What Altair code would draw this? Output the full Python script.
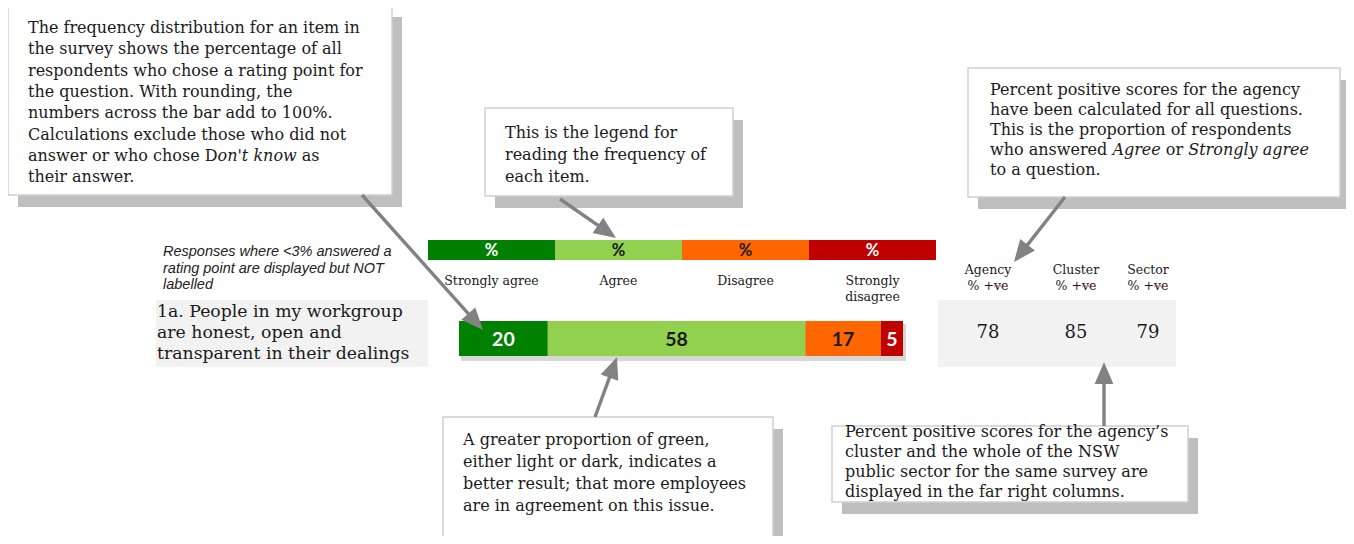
import math
import altair as alt
import pandas as pd

# ---------------- data ----------------
categories = ["Strongly agree", "Agree", "Disagree", "Strongly disagree"]
legend_labels = ["Strongly agree", "Agree", "Disagree", "Strongly\ndisagree"]
legend_symbol = ["%", "%", "%", "%"]
segment_colors = ["#008000", "#92d050", "#ff6600", "#c00000"]
label_colors = ["#ffffff", "#1a1a1a", "#1a1a1a", "#ffffff"]

item_lines = ["1a. People in my workgroup", "are honest, open and", "transparent in their dealings"]
item_values = [20, 58, 17, 5]
label_min = 3

score_headers = ["Agency\n% +ve", "Cluster\n% +ve", "Sector\n% +ve"]
score_values = [78, 85, 79]

note_lines = ["Responses where <3% answered a", "rating point are displayed but NOT", "labelled"]

callout_texts = [
    ["The frequency distribution for an item in",
     "the survey shows the percentage of all",
     "respondents who chose a rating point for",
     "the question. With rounding, the",
     "numbers across the bar add to 100%.",
     "Calculations exclude those who did not",
     "answer or who chose D*on't know* as",
     "their answer."],
    ["This is the legend for",
     "reading the frequency of",
     "each item."],
    ["Percent positive scores for the agency",
     "have been calculated for all questions.",
     "This is the proportion of respondents",
     "who answered *Agree* or *Strongly agree*",
     "to a question."],
    ["A greater proportion of green,",
     "either light or dark, indicates a",
     "better result; that more employees",
     "are in agreement on this issue."],
    ["Percent positive scores for the agency\u2019s",
     "cluster and the whole of the NSW",
     "public sector for the same survey are",
     "displayed in the far right columns."],
]

# ---------------- layout ----------------
PAGE = 8
W, H = 1338, 528
XS = alt.Scale(domain=[PAGE, PAGE + W], nice=False, zero=False)
YS = alt.Scale(domain=[PAGE, PAGE + H], reverse=True, nice=False, zero=False)

SERIF = "DejaVu Serif"
NUMFONT = "Lato"
TEXT = "#1a1a1a"
ARROW = "#828282"
SHADOW = "#bfbfbf"
PANEL = "#f2f2f2"
CALLOUT_SIZE = 16
HEADER_SIZE = 12.5

box_frames = [(8, 5, 392, 195), (485, 108, 733, 196), (968, 68, 1340, 197),
              (443, 417, 773, 537), (832, 426, 1188, 502)]
box_text_pos = [(28, 28, 21.3), (505, 133, 22), (990, 90, 20), (463, 440, 22), (845, 432, 20)]
shadow_dx, shadow_dy = 10, 12
arrows = [((362, 195), (483, 330)), ((560, 199), (616, 238)), ((1065, 197), (1014, 262)),
          ((595, 417), (617, 357)), ((1104, 426), (1104, 362))]
head_r = 11

legend_span = (428, 936)
legend_y = (240, 260)
legend_label_y = 281
bar_span = (459, 903)
bar_y = (321, 356)
panels = [(156, 300, 428, 367), (938, 300, 1176, 367)]
item_x, item_y0, item_dy = 157, 312, 21
note_x, note_y0, note_dy = 163, 252, 16.5
score_x = [988, 1076, 1148]
score_header_y, score_value_y = 270, 333

SERIF_W = {' ': .318, 'a': .596, 'b': .640, 'c': .560, 'd': .640, 'e': .592, 'f': .370,
           'g': .640, 'h': .644, 'i': .320, 'j': .320, 'k': .604, 'l': .320, 'm': .948,
           'n': .644, 'o': .602, 'p': .640, 'q': .640, 'r': .478, 's': .513, 't': .402,
           'u': .644, 'v': .565, 'w': .856, 'x': .564, 'y': .565, 'z': .525, 'A': .722,
           'D': .802, 'S': .685, "'": .275, '.': .318, ',': .318, '%': .950, '+': .838}


def text_w(s, size):
    return sum(SERIF_W.get(ch, 0.6) for ch in s) * size


def pxX(f):
    return alt.X(f"{f}:Q", scale=XS, axis=None)


def pxY(f):
    return alt.Y(f"{f}:Q", scale=YS, axis=None)


def yd(v):
    return alt.YDatum(v, scale=YS, axis=None)


# ---------------- frames ----------------
frames = pd.DataFrame(box_frames, columns=["x", "y", "x2", "y2"])
shadows = frames.copy()
shadows[["x", "x2"]] += shadow_dx
shadows[["y", "y2"]] += shadow_dy

shadow_layer = alt.Chart(shadows).mark_rect(fill=SHADOW).encode(
    x=pxX("x"), x2=alt.X2("x2"), y=pxY("y"), y2=alt.Y2("y2"))
box_layer = alt.Chart(frames).mark_rect(fill="white", stroke="#d0d0d0", strokeWidth=1.5).encode(
    x=pxX("x"), x2=alt.X2("x2"), y=pxY("y"), y2=alt.Y2("y2"))
panel_layer = alt.Chart(pd.DataFrame(panels, columns=["x", "y", "x2", "y2"])).mark_rect(fill=PANEL).encode(
    x=pxX("x"), x2=alt.X2("x2"), y=pxY("y"), y2=alt.Y2("y2"))
bar_shadow = alt.Chart(pd.DataFrame([{"x": bar_span[0] + 2, "y": bar_y[0] + 3,
                                      "x2": bar_span[1] + 3, "y2": bar_y[1] + 5}])).mark_rect(
    fill="#9a9a9a", opacity=0.4).encode(x=pxX("x"), x2=alt.X2("x2"), y=pxY("y"), y2=alt.Y2("y2"))

# ---------------- legend ----------------
legend_df = pd.DataFrame({"cat": categories, "label": legend_labels, "sym": legend_symbol})
LX = alt.X("cat:N", scale=alt.Scale(domain=categories, range=[legend_span[0] - PAGE, legend_span[1] - PAGE],
                                    paddingInner=0, paddingOuter=0), axis=None)
fill_enc = alt.Fill("cat:N", scale=alt.Scale(domain=categories, range=segment_colors), legend=None)
color_enc = alt.Color("cat:N", scale=alt.Scale(domain=categories, range=label_colors), legend=None)

legend_rect = alt.Chart(legend_df).mark_rect().encode(
    x=LX, y=yd(legend_y[0]), y2=alt.Y2Datum(legend_y[1]), fill=fill_enc)
legend_sym = alt.Chart(legend_df).mark_text(font=NUMFONT, fontWeight="bold", fontSize=16.5).encode(
    x=LX, y=yd((legend_y[0] + legend_y[1]) / 2 + 1), text="sym:N", color=color_enc)
legend_text = alt.Chart(legend_df).mark_text(font=SERIF, fontSize=HEADER_SIZE, lineHeight=16, lineBreak="\n",
                                             color=TEXT).encode(
    x=LX, y=yd(legend_label_y), text="label:N")

# ---------------- stacked bar ----------------
bar_df = pd.DataFrame({"cat": categories, "value": item_values, "rank": list(range(len(categories)))})
BXS = alt.Scale(domain=[0, 100], range=[bar_span[0] - PAGE, bar_span[1] - PAGE], nice=False, zero=False)
bar_base = alt.Chart(bar_df).transform_stack(
    stack="value", as_=["v0", "v1"], groupby=[], sort=[alt.SortField("rank", order="ascending")])
bar_rect = bar_base.mark_rect().encode(
    x=alt.X("v0:Q", scale=BXS, axis=None), x2=alt.X2("v1"),
    y=yd(bar_y[0]), y2=alt.Y2Datum(bar_y[1]), fill=fill_enc)
bar_text = bar_base.transform_filter(f"datum.value >= {label_min}").transform_calculate(
    mid="(datum.v0 + datum.v1) / 2").mark_text(font=NUMFONT, fontWeight="bold", fontSize=19.5).encode(
    x=alt.X("mid:Q", scale=BXS, axis=None), y=yd((bar_y[0] + bar_y[1]) / 2 + 1),
    text="value:Q", color=color_enc)

# ---------------- left texts ----------------
item_df = pd.DataFrame({"x": [item_x] * len(item_lines),
                        "y": [item_y0 + i * item_dy for i in range(len(item_lines))],
                        "text": item_lines})
item_layer = alt.Chart(item_df).mark_text(align="left", font=SERIF, fontSize=17.3, color=TEXT).encode(
    x=pxX("x"), y=pxY("y"), text="text:N")
note_df = pd.DataFrame({"x": [note_x] * len(note_lines),
                        "y": [note_y0 + i * note_dy for i in range(len(note_lines))],
                        "text": note_lines})
note_layer = alt.Chart(note_df).mark_text(align="left", font="Liberation Sans", fontStyle="italic",
                                          fontSize=14.5, color="#222222").encode(
    x=pxX("x"), y=pxY("y"), text="text:N")

# ---------------- score columns ----------------
score_df = pd.DataFrame({"x": score_x, "header": score_headers, "value": score_values})
score_head = alt.Chart(score_df).mark_text(font=SERIF, fontSize=HEADER_SIZE, lineHeight=16, lineBreak="\n",
                                           color=TEXT).encode(
    x=pxX("x"), y=yd(score_header_y), text="header:N")
score_val = alt.Chart(score_df).mark_text(font=SERIF, fontSize=18, color=TEXT).encode(
    x=pxX("x"), y=yd(score_value_y), text="value:Q")

# spell-check squiggle under "ve" of "% +ve"
sub_line = "% +ve"
sq_rows = []
for sx in score_x:
    left = sx - text_w(sub_line, HEADER_SIZE) / 2 + text_w("% +", HEADER_SIZE)
    sq_rows.append({"x": left, "x2": left + text_w("ve", HEADER_SIZE), "y": score_header_y + 16})
squiggle = alt.Chart(pd.DataFrame(sq_rows)).mark_rule(color="#d04040", strokeWidth=1.2,
                                                      strokeDash=[1.5, 1.5]).encode(
    x=pxX("x"), x2=alt.X2("x2"), y=pxY("y"))

# ---------------- callout texts ----------------
reg_rows, ita_rows = [], []
for lines, (tx, ty, tdy) in zip(callout_texts, box_text_pos):
    for i, line in enumerate(lines):
        cx = tx
        for j, part in enumerate(line.split("*")):
            if not part:
                continue
            lead = len(part) - len(part.lstrip(" "))
            trail = len(part) - len(part.rstrip(" "))
            core = part.strip(" ")
            cx += lead * SERIF_W[" "] * CALLOUT_SIZE
            row = {"x": cx, "y": ty + i * tdy, "text": core}
            (ita_rows if j % 2 == 1 else reg_rows).append(row)
            cx += text_w(core, CALLOUT_SIZE) + trail * SERIF_W[" "] * CALLOUT_SIZE

callout_reg = alt.Chart(pd.DataFrame(reg_rows)).mark_text(
    align="left", font=SERIF, fontSize=CALLOUT_SIZE, color=TEXT).encode(
    x=pxX("x"), y=pxY("y"), text="text:N")
callout_ita = alt.Chart(pd.DataFrame(ita_rows)).mark_text(
    align="left", font=SERIF, fontStyle="italic", fontSize=CALLOUT_SIZE, color=TEXT).encode(
    x=pxX("x"), y=pxY("y"), text="text:N")

# ---------------- arrows ----------------
arrow_rows = []
for (x0, y0), (x1, y1) in arrows:
    dx, dy = x1 - x0, y1 - y0
    L = math.hypot(dx, dy)
    ux, uy = dx / L, dy / L
    arrow_rows.append({"x": x0, "y": y0, "cx": x1 - head_r * ux, "cy": y1 - head_r * uy,
                       "ang": math.degrees(math.atan2(ux, -uy)) % 360})
arrow_df = pd.DataFrame(arrow_rows)
arrow_line = alt.Chart(arrow_df).mark_rule(color=ARROW, strokeWidth=3.4).encode(
    x=pxX("x"), y=pxY("y"), x2=alt.X2("cx"), y2=alt.Y2("cy"))
arrow_head = alt.Chart(arrow_df).mark_point(
    shape="M0,-1L-0.85,1L0.85,1Z", filled=True, fill=ARROW, size=(2 * head_r) ** 2,
    strokeWidth=0, opacity=1).encode(
    x=pxX("cx"), y=pxY("cy"), angle=alt.Angle("ang:Q", scale=None))

chart = alt.layer(
    shadow_layer, box_layer, panel_layer, bar_shadow,
    legend_rect, legend_sym, legend_text,
    bar_rect, bar_text,
    item_layer, note_layer, score_head, score_val, squiggle,
    callout_reg, callout_ita,
    arrow_line, arrow_head,
).resolve_scale(x="independent").properties(
    width=W, height=H, padding=0, background="white",
    autosize=alt.AutoSizeParams(type="none"),
).configure_view(stroke=None)

chart.save("out.html", embed_options={"renderer": "svg", "actions": False})
